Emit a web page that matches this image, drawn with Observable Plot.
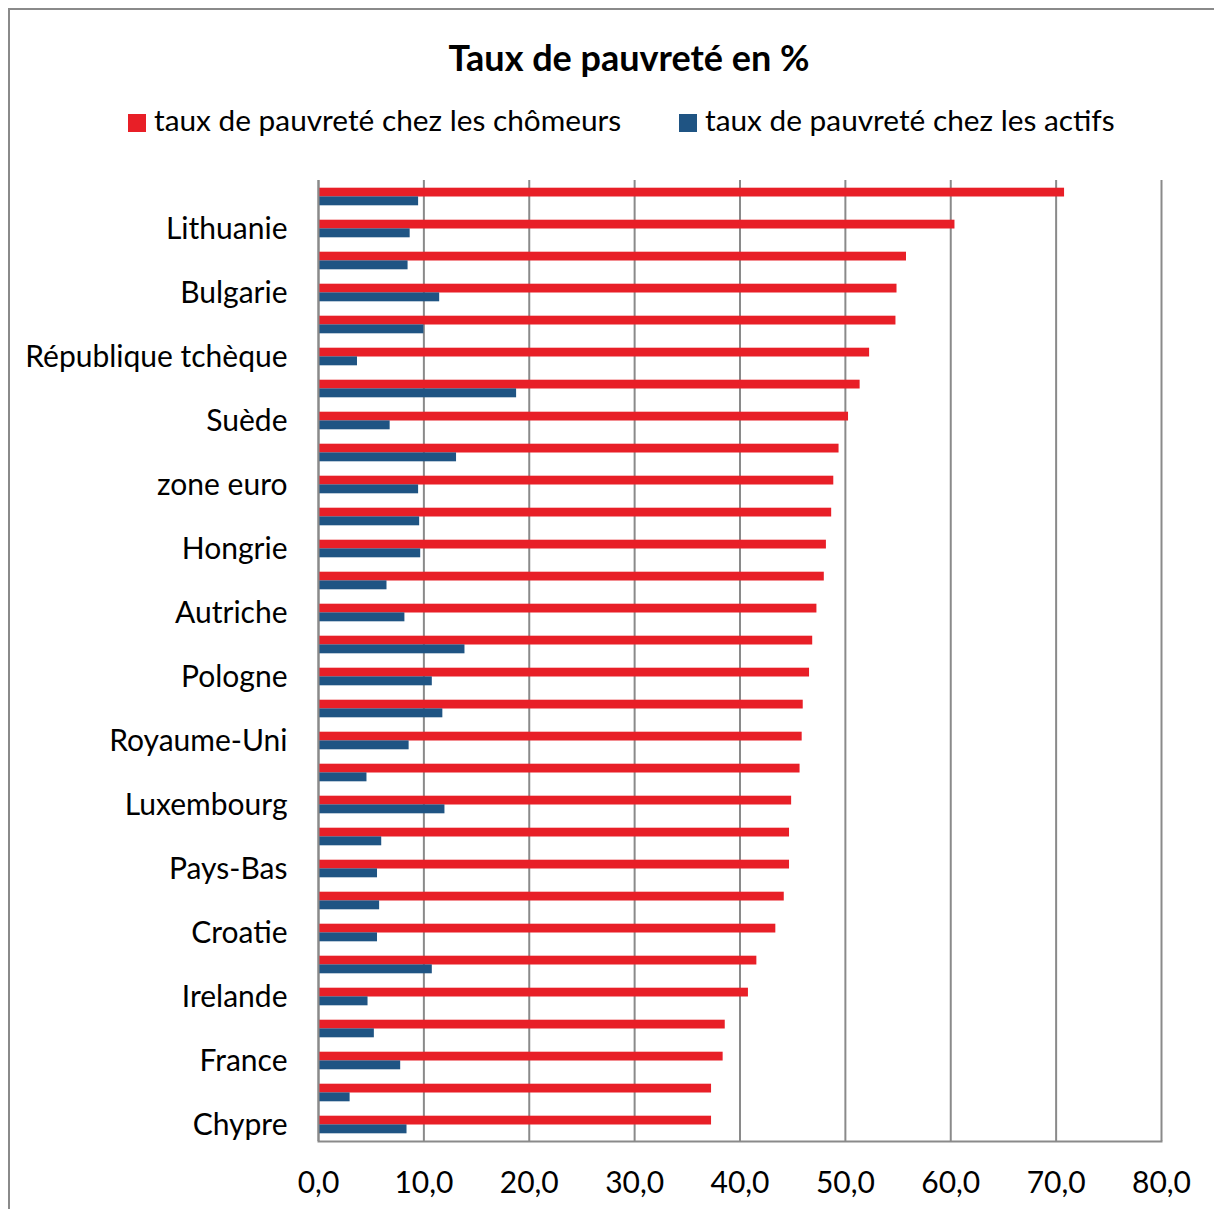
<!DOCTYPE html>
<html><head><meta charset="utf-8">
<script src="https://cdn.jsdelivr.net/npm/d3@7"></script>
<script src="https://cdn.jsdelivr.net/npm/@observablehq/plot@0.6"></script>
<style>
html,body{margin:0;padding:0;background:#fff;overflow:hidden;width:1214px;height:1209px;position:relative;}
#frame{position:absolute;left:8px;top:8px;width:1230px;height:1230px;border:2px solid #8a8a8a;box-sizing:border-box;}
#title{position:absolute;left:0;width:1258px;top:36.5px;text-align:center;font-family:Lato;font-weight:bold;font-size:36px;line-height:40px;color:#000;}
.leg{position:absolute;top:102px;font-family:Lato;font-size:29.8px;line-height:36px;color:#000;white-space:nowrap;}
.sw{position:absolute;width:18px;height:18px;top:114px;}
#chart{position:absolute;left:0;top:150px;}
</style>
</head><body>
<div id="frame"></div>
<div id="title"></div>
<div id="legend"></div>
<div id="chart"></div>
<script>
const titleText = "Taux de pauvreté en %";
const seriesNames = ["taux de pauvreté chez les chômeurs", "taux de pauvreté chez les actifs"];
const seriesColors = ["#e81f27", "#1f5483"];
const countries = ["Allemagne","Lithuanie","Lettonie","Bulgarie","Estonie","République tchèque","Roumanie","Suède","Grèce","zone euro","UE 28","Hongrie","Slovaquie","Autriche","Espagne","Pologne","Italie","Royaume-Uni","Slovénie","Luxembourg","Malte","Pays-Bas","Belgique","Croatie","Portugal","Irelande","Danemark","France","Finlande","Chypre"];
const labeledCountries = ["Lithuanie","Bulgarie","République tchèque","Suède","zone euro","Hongrie","Autriche","Pologne","Royaume-Uni","Luxembourg","Pays-Bas","Croatie","Irelande","France","Chypre"];
const chomeurs = [70.8,60.4,55.8,54.9,54.8,52.3,51.4,50.3,49.4,48.9,48.7,48.2,48.0,47.3,46.9,46.6,46.0,45.9,45.7,44.9,44.7,44.7,44.2,43.4,41.6,40.8,38.6,38.4,37.3,37.3];
const actifs = [9.5,8.7,8.5,11.5,10.0,3.7,18.8,6.8,13.1,9.5,9.6,9.7,6.5,8.2,13.9,10.8,11.8,8.6,4.6,12.0,6.0,5.6,5.8,5.6,10.8,4.7,5.3,7.8,3.0,8.4];
const xTicks = [0,10,20,30,40,50,60,70,80];

document.getElementById("title").textContent = titleText;
const legend = document.getElementById("legend");
const legPos = [128, 679];
seriesNames.forEach((name, i) => {
  const sw = document.createElement("div");
  sw.className = "sw"; sw.style.left = legPos[i] + "px"; sw.style.background = seriesColors[i];
  legend.appendChild(sw);
  const t = document.createElement("div");
  t.className = "leg"; t.style.left = (legPos[i] + 26) + "px"; t.textContent = name;
  legend.appendChild(t);
});

const data = countries.map((c, i) => ({country: c, chomeurs: chomeurs[i], actifs: actifs[i]}));
const grid = "#8a8a8a";
const chart = Plot.plot({
  width: 1214, height: 1059,
  marginLeft: 318, marginRight: 53, marginTop: 30, marginBottom: 68,
  style: {fontFamily: "Lato", fontSize: "30px", color: "#000", background: "transparent"},
  x: {domain: [0, 80], ticks: xTicks, label: null},
  y: {domain: countries, padding: 0, label: null},
  marks: [
    Plot.ruleX(xTicks, {stroke: grid, strokeWidth: 2}),
    Plot.frame({anchor: "bottom", stroke: grid, strokeWidth: 2}),
    Plot.barX(data, {x: "chomeurs", y: "country", fill: seriesColors[0], insetTop: 6.7, insetBottom: 16.5}),
    Plot.barX(data, {x: "actifs", y: "country", fill: seriesColors[1], insetTop: 15.4, insetBottom: 7.7}),
    Plot.ruleX([0], {stroke: grid, strokeWidth: 2}),
    Plot.axisX({ticks: xTicks, tickSize: 0, tickPadding: 30, label: null, tickFormat: d => d.toFixed(1).replace(".", ",")}),
    Plot.axisY({ticks: labeledCountries, tickSize: 0, tickPadding: 31, label: null})
  ]
});
document.getElementById("chart").appendChild(chart);
</script>
</body></html>
